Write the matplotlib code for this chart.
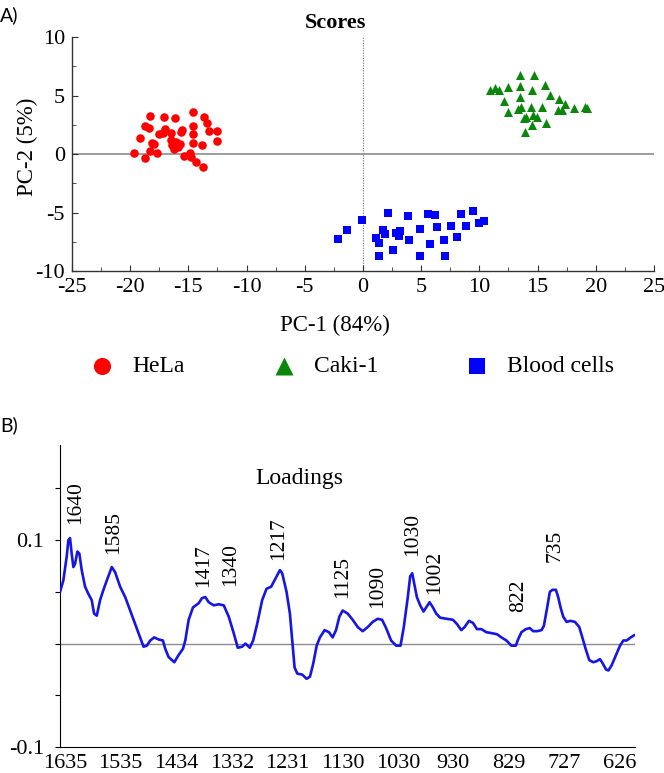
import numpy as np
import matplotlib
matplotlib.use("Agg")
import matplotlib.pyplot as plt
from matplotlib.ticker import MultipleLocator

plt.rcParams['font.family'] = ['Liberation Serif', 'DejaVu Serif']
plt.rcParams['axes.unicode_minus'] = False

# ---- panel A: PCA scores ----
hela_x = [-19.65, -19.17, -18.70, -18.38, -18.30, -18.70, -18.30, -18.16, -17.94, -17.67,
          -17.56, -17.21, -17.02, -17.08, -16.53, -16.48, -16.40, -16.26, -16.18, -16.04,
          -15.85, -15.72, -15.64, -15.58, -15.39, -14.90, -14.77, -14.63, -14.63, -14.63,
          -14.58, -14.31, -13.82, -13.77, -13.68, -13.41, -13.22, -12.52, -12.52]
hela_y = [0.11, 1.34, 2.39, 2.19, 3.25, -0.31, 0.28, 0.97, 0.85, 0.11,
          1.68, 1.82, 2.11, 3.13, 1.20, 1.82, 0.77, 0.40, 3.05, 1.05,
          0.63, 0.85, 1.91, 2.05, -0.17, 0.06, -0.23, 2.39, 1.68, 0.91,
          3.62, -0.66, 0.77, -1.14, 3.13, 2.62, 1.99, 1.99, 1.11]

caki_x = [10.95, 11.32, 11.66, 12.09, 12.46, 12.46, 13.32, 13.47, 13.47, 13.47,
          13.58, 13.81, 13.90, 14.01, 14.44, 14.53, 14.53, 14.61, 14.67, 14.96,
          15.39, 15.67, 15.73, 16.10, 16.73, 16.82, 17.11, 17.39, 18.11, 19.05, 19.26]
caki_y = [5.43, 5.63, 5.43, 4.57, 5.77, 3.63, 3.83, 6.77, 5.83, 4.91,
          4.06, 3.06, 1.91, 3.20, 4.06, 5.43, 2.49, 3.34, 6.77, 3.20,
          4.00, 5.91, 2.69, 5.06, 3.77, 4.69, 3.77, 4.29, 3.91, 4.06, 3.91]

blood_x = [-2.18, -1.38, -0.09, 1.15, 1.35, 1.35, 1.69, 1.92, 2.15, 2.58,
           2.84, 3.07, 3.21, 3.84, 3.98, 4.87, 4.93, 5.59, 5.79, 6.22,
           6.36, 6.99, 7.08, 7.59, 8.08, 8.45, 8.85, 9.43, 9.94, 10.43]
blood_y = [-7.23, -6.51, -5.66, -7.14, -7.60, -8.74, -6.46, -6.80, -5.03, -8.17,
           -6.74, -7.03, -6.60, -5.31, -7.37, -8.74, -6.40, -5.09, -7.71, -5.23,
           -6.23, -7.31, -8.71, -6.11, -7.09, -5.09, -6.17, -4.91, -5.89, -5.71]

# ---- panel B: loadings ----
wn = [1645.3, 1639.3, 1633.2, 1630.1, 1627.1, 1624.1, 1621.0, 1618.0, 1613.7, 1610.1,
      1605.8, 1599.7, 1593.6, 1587.6, 1583.3, 1578.4, 1572.4, 1566.3, 1560.2, 1551.1,
      1545.0, 1535.9, 1526.7, 1517.6, 1508.5, 1499.4, 1493.3, 1487.2, 1481.1, 1473.8,
      1465.9, 1458.0, 1453.8, 1447.7, 1437.3, 1429.4, 1421.5, 1417.3, 1411.2, 1403.3,
      1393.0, 1386.9, 1380.8, 1374.7, 1365.6, 1356.4, 1347.3, 1338.2, 1329.1, 1321.8,
      1313.9, 1307.8, 1299.9, 1293.8, 1286.5, 1277.4, 1269.5, 1261.0, 1253.0, 1245.1,
      1240.9, 1233.0, 1226.9, 1222.6, 1218.4, 1213.5, 1204.4, 1196.5, 1190.4, 1184.3,
      1178.2, 1172.2, 1163.7, 1155.7, 1149.1, 1143.0, 1136.9, 1130.9, 1121.7, 1112.6,
      1103.5, 1094.4, 1085.2, 1076.1, 1067.0, 1059.1, 1051.8, 1042.7, 1033.5, 1025.6,
      1019.6, 1012.3, 1008.0, 1004.3, 1001.3, 995.8, 989.8, 983.7, 978.8, 972.7,
      966.6, 960.6, 953.3, 942.3, 930.2, 922.9, 915.0, 908.9, 901.0, 893.7,
      886.4, 878.4, 869.3, 858.4, 849.8, 842.0, 832.8, 823.7, 815.8, 811.6,
      805.5, 797.6, 790.3, 784.2, 776.9, 769.0, 764.7, 758.6, 753.8, 749.0,
      742.8, 738.6, 734.3, 729.4, 723.3, 716.1, 708.2, 700.2, 694.2, 688.1,
      682.0, 674.7, 668.6, 662.6, 657.7, 651.6, 647.3, 641.3, 633.4, 626.1,
      620.0, 613.9, 606.6, 600.5]
loading = [0.050, 0.061, 0.084, 0.100, 0.102, 0.087, 0.074, 0.077, 0.089, 0.087,
           0.071, 0.055, 0.048, 0.042, 0.029, 0.027, 0.042, 0.052, 0.061, 0.074,
           0.069, 0.055, 0.045, 0.032, 0.019, 0.006, -0.003, -0.002, 0.003, 0.006,
           0.004, 0.003, -0.005, -0.013, -0.018, -0.011, -0.005, 0.003, 0.023, 0.035,
           0.039, 0.044, 0.045, 0.040, 0.037, 0.038, 0.037, 0.026, 0.010, -0.004,
           -0.003, 0.000, -0.004, 0.003, 0.019, 0.042, 0.053, 0.055, 0.063, 0.071,
           0.068, 0.050, 0.029, 0.003, -0.023, -0.029, -0.030, -0.034, -0.032, -0.019,
           -0.002, 0.006, 0.013, 0.011, 0.006, 0.013, 0.026, 0.032, 0.029, 0.023,
           0.016, 0.012, 0.016, 0.021, 0.024, 0.023, 0.015, 0.003, -0.002, -0.002,
           0.016, 0.045, 0.065, 0.068, 0.060, 0.045, 0.037, 0.031, 0.035, 0.040,
           0.035, 0.029, 0.025, 0.024, 0.023, 0.019, 0.013, 0.016, 0.022, 0.020,
           0.014, 0.014, 0.011, 0.010, 0.009, 0.006, 0.003, -0.002, -0.002, 0.004,
           0.011, 0.014, 0.015, 0.012, 0.012, 0.013, 0.017, 0.035, 0.050, 0.052,
           0.052, 0.045, 0.035, 0.026, 0.021, 0.022, 0.021, 0.016, 0.005, -0.006,
           -0.016, -0.018, -0.017, -0.015, -0.019, -0.025, -0.026, -0.021, -0.011, -0.002,
           0.003, 0.003, 0.006, 0.008]

peak_labels = ['1640', '1585', '1417', '1340', '1217', '1125', '1090', '1030', '1002', '822', '735']
peak_wn = [1616, 1548, 1384, 1335, 1247, 1131, 1067, 1003, 964, 810, 745]
peak_y = [0.116, 0.087, 0.055, 0.056, 0.081, 0.044, 0.034, 0.085, 0.048, 0.031, 0.079]

wn_ticks = [1635, 1535, 1434, 1332, 1231, 1130, 1030, 930, 829, 727, 626]

fig = plt.figure(figsize=(6.64, 7.73), dpi=100)

# ---------------- A) ----------------
axA = fig.add_axes([0.1084, 0.6494, 0.8765, 0.3027])
axA.axhline(0, color='#8c8c8c', lw=1.2, zorder=1)
axA.axvline(0, color='#8c8c8c', lw=0.9, ls=(0, (1, 1)), zorder=1)
hA = axA.scatter(hela_x, hela_y, s=38, marker='o', color='#ff0000', lw=0, zorder=3, label='HeLa')
hC = axA.scatter(caki_x, caki_y, s=42, marker='^', color='#0a860a', lw=0, zorder=3, label='Caki-1')
hB = axA.scatter(blood_x, blood_y, s=34, marker='s', color='#0000ff', lw=0, zorder=3, label='Blood cells')
axA.set_xlim(-25, 25)
axA.set_ylim(-10, 10)
axA.xaxis.set_major_locator(MultipleLocator(5))
axA.xaxis.set_minor_locator(MultipleLocator(2.5))
axA.yaxis.set_major_locator(MultipleLocator(5))
axA.yaxis.set_minor_locator(MultipleLocator(2.5))
for s in ['top', 'right']:
    axA.spines[s].set_visible(False)
for s in ['left', 'bottom']:
    axA.spines[s].set_color('#333333')
    axA.spines[s].set_linewidth(1.0)
axA.tick_params(which='both', direction='in', color='#333333', labelsize=16)
axA.tick_params(which='major', length=4, pad=5)
axA.tick_params(which='minor', length=3)
axA.set_xlabel('PC-1 (84%)', fontsize=16.5)
axA.xaxis.set_label_coords(0.452, -0.231)
axA.xaxis.label.set_va('center')
axA.set_ylabel('PC-2 (5%)', fontsize=16.5)
axA.yaxis.set_label_coords(-0.076, 0.53)
axA.yaxis.label.set_va('center')
fig.text(335.5 / 664, 1 - 23 / 773, 'Scores', fontsize=16, fontweight='bold', ha='center', va='center')

fig.legend(handles=[hA, hC, hB], loc='center left', bbox_to_anchor=(0.136, 1 - 366 / 773),
           ncol=3, frameon=False, fontsize=17, handlelength=1.0, handletextpad=0.77,
           columnspacing=3.7, borderpad=0, borderaxespad=0, scatterpoints=1, markerscale=2.0)

fig.text(0.0, 1 - 15 / 773, 'A)', family=['Lato', 'DejaVu Sans'], fontsize=14, ha='left', va='center')
fig.text(0.0, 1 - 425 / 773, 'B)', family=['Lato', 'DejaVu Sans'], fontsize=14, ha='left', va='center')

# ---------------- B) ----------------
axB = fig.add_axes([0.0904, 0.0336, 0.866, 0.3907])
axB.axhline(0, color='#8c8c8c', lw=1.0, zorder=1)
axB.plot(wn, loading, color='#1515e6', lw=1.9, zorder=3)
for lab, x, y in zip(peak_labels, peak_wn, peak_y):
    axB.text(x, y, lab, rotation=90, ha='center', va='bottom', fontsize=15.5)
axB.set_xlim(1645.3, 598.7)
axB.set_ylim(-0.1, 0.192)
axB.set_xticks(wn_ticks)
axB.set_xticklabels([str(t) for t in wn_ticks])
axB.set_yticks([-0.1, -0.05, 0, 0.05, 0.1, 0.15])
axB.set_yticklabels(['-0.1', '', '', '', '0.1', ''])
for s in ['top', 'right']:
    axB.spines[s].set_visible(False)
axB.tick_params(axis='x', length=0, pad=5, labelsize=16)
axB.tick_params(axis='y', length=3.5, pad=8, labelsize=16)
axB.text(0.417, 0.89, 'Loadings', transform=axB.transAxes, fontsize=17, ha='center', va='center')

fig.savefig('out.png', dpi=100)
